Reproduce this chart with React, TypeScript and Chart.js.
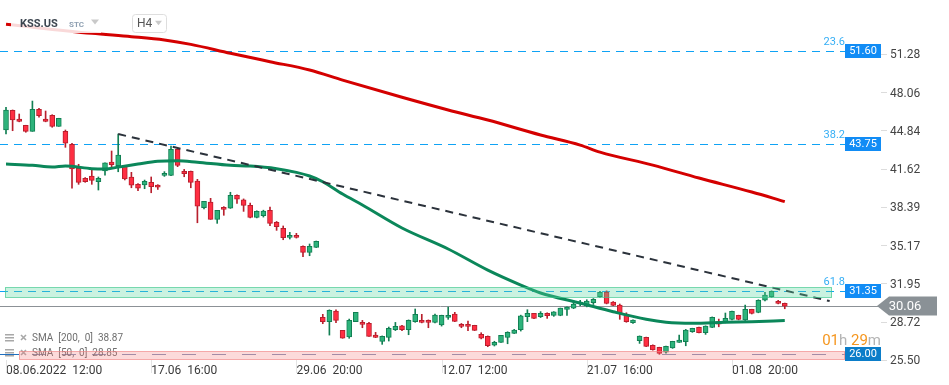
import React, { useEffect, useRef } from 'react';
import { Chart, registerables } from 'chart.js';

Chart.register(...registerables);

// ---- candle data (H4 bars, index 0 = 08.06.2022 12:00) ----
const opens = [
  44.91, 46.57, 45.84, 45.31, 44.80, 46.65, 45.84, 46.15, 45.22, 44.80,
  43.70, 41.68, 40.84, 41.03, 40.55, 41.45, 42.21, 41.90, 41.87, 40.95,
  40.33, 40.27, 40.50, 40.27, 41.09, 41.09, 43.28, 41.42, 41.42, 40.61,
  38.36, 38.84, 37.38, 38.39, 38.31, 39.40, 39.03, 38.56, 37.55, 37.68,
  38.14, 37.13, 36.62, 35.86, 36.03, 35.10, 34.60, 35.02, 29.12, 28.75,
  29.65, 28.02, 27.46, 28.75, 28.69, 28.61, 27.62, 27.09, 27.43, 28.07,
  28.41, 28.07, 28.75, 28.86, 28.86, 28.69, 28.47, 29.12, 29.39, 28.53,
  28.53, 28.44, 27.68, 27.51, 26.76, 27.01, 27.43, 27.77, 28.07, 29.17,
  29.45, 29.17, 29.45, 29.28, 29.28, 29.79, 29.90, 30.24, 30.07, 30.35,
  30.85, 31.22, 30.41, 30.15, 29.37, 28.66, 27.14, 27.43, 26.76, 26.59,
  26.17, 26.53, 27.01, 27.06, 27.90, 28.27, 27.82, 28.27, 28.75, 28.69,
  28.95, 29.28, 28.89, 29.79, 29.54, 30.57, 30.85, 30.47, 30.30,
];
const highs = [
  46.82, 46.60, 46.26, 45.31, 47.35, 46.74, 46.51, 46.20, 45.90, 44.91,
  43.79, 42.02, 40.90, 41.54, 40.95, 42.15, 43.14, 44.57, 41.90, 41.34,
  40.40, 40.69, 40.95, 40.30, 41.40, 43.56, 43.30, 41.59, 41.45, 40.75,
  38.90, 39.15, 38.14, 38.45, 39.66, 39.45, 39.10, 38.75, 38.10, 38.15,
  38.42, 37.20, 36.82, 36.28, 36.20, 35.15, 35.30, 35.55, 29.37, 29.75,
  29.76, 28.02, 28.97, 29.54, 28.86, 28.70, 27.85, 27.55, 28.30, 28.69,
  28.45, 28.90, 29.82, 29.37, 28.90, 29.40, 29.30, 29.98, 29.54, 28.60,
  28.80, 28.45, 27.82, 27.55, 27.10, 27.60, 27.90, 28.10, 29.30, 29.76,
  29.45, 29.60, 29.50, 29.60, 29.90, 30.00, 30.52, 30.55, 30.60, 30.70,
  31.30, 31.35, 30.45, 30.24, 29.50, 28.90, 27.55, 27.45, 26.80, 26.60,
  26.70, 27.10, 27.62, 28.10, 28.20, 28.30, 28.40, 29.15, 28.97, 29.48,
  29.65, 29.30, 30.15, 29.80, 30.60, 31.22, 31.35, 30.55, 30.32,
];
const lows = [
  44.58, 44.85, 45.60, 44.72, 44.80, 46.00, 45.60, 45.14, 45.22, 43.45,
  40.00, 40.33, 40.50, 40.33, 39.85, 41.11, 41.82, 41.39, 40.70, 40.04,
  39.79, 39.96, 39.62, 39.90, 41.00, 41.05, 41.82, 40.97, 40.04, 37.09,
  38.25, 37.38, 37.04, 37.72, 38.30, 38.73, 38.05, 37.50, 37.50, 37.57,
  36.84, 36.45, 35.66, 35.72, 35.80, 34.23, 34.31, 35.00, 28.58, 27.62,
  28.66, 27.35, 27.35, 28.75, 28.24, 27.50, 27.40, 26.84, 27.12, 28.00,
  28.00, 27.65, 28.70, 28.65, 28.24, 28.65, 28.38, 28.95, 28.75, 28.24,
  27.99, 28.00, 27.30, 26.64, 26.70, 27.00, 26.89, 27.75, 27.96, 28.75,
  29.00, 29.10, 29.03, 29.20, 29.25, 29.28, 29.85, 30.10, 30.00, 30.20,
  30.80, 30.25, 30.10, 28.95, 28.70, 28.60, 26.92, 26.65, 26.35, 26.00,
  26.10, 26.50, 27.00, 26.72, 27.85, 27.80, 27.68, 28.25, 28.32, 28.65,
  28.90, 28.90, 28.85, 29.40, 29.50, 30.50, 30.80, 30.25, 29.84,
];
const closes = [
  46.60, 45.75, 45.64, 44.80, 46.65, 46.11, 45.64, 45.22, 45.90, 43.79,
  41.62, 40.50, 40.55, 40.67, 40.84, 42.15, 41.98, 42.80, 40.78, 40.25,
  40.00, 40.58, 40.13, 40.08, 41.26, 43.28, 41.93, 41.22, 40.50, 38.48,
  38.90, 37.38, 38.14, 38.22, 39.40, 39.07, 38.56, 37.55, 38.05, 38.08,
  37.04, 36.76, 35.83, 36.03, 35.86, 34.60, 35.10, 35.52, 28.75, 29.71,
  28.86, 27.35, 28.86, 29.54, 28.53, 27.51, 27.43, 27.51, 28.19, 28.36,
  28.07, 28.86, 29.37, 28.69, 28.69, 29.31, 29.28, 29.28, 28.78, 28.36,
  28.36, 28.02, 27.35, 26.72, 27.01, 27.60, 27.85, 28.05, 29.25, 29.45,
  29.03, 29.45, 29.25, 29.59, 29.90, 29.98, 30.24, 30.30, 30.49, 30.63,
  31.22, 30.30, 30.13, 29.45, 28.75, 28.89, 27.54, 26.67, 26.38, 26.08,
  26.67, 27.09, 27.20, 28.05, 28.19, 27.82, 28.38, 29.12, 28.55, 29.03,
  29.62, 28.95, 29.79, 29.45, 30.55, 31.00, 31.31, 30.30, 30.06,
];

// ---- axis labels ----
const xTickIndex = [0, 22, 44, 66, 88, 110];
const xTickLabels = ['08.06.2022  12:00', '17.06  16:00', '29.06  20:00', '12.07  12:00', '21.07  16:00', '01.08  20:00'];
const yTickValues = [51.28, 48.06, 44.84, 41.62, 38.39, 35.17, 31.95, 28.72, 25.5];

// ---- SMA lines ----
const sma50X = [0, 4, 7, 9, 13, 15, 17, 20, 23, 26, 29, 34, 37, 41, 44, 46, 48, 51, 54, 60, 67, 73, 78, 81, 87, 92, 97, 100, 104, 109, 113, 118];
const sma50Y = [42.04, 41.93, 41.79, 41.88, 41.65, 41.62, 41.78, 42.04, 42.27, 42.32, 42.19, 41.93, 41.87, 41.65, 41.34, 41.03, 40.55, 39.51, 38.59, 36.65, 34.88, 33.10, 31.84, 31.17, 30.32, 29.59, 28.95, 28.70, 28.61, 28.70, 28.75, 28.85];
const sma200X = [0, 13, 19, 24, 28, 34, 40, 46, 51, 60, 67, 73, 81, 87, 90, 98, 105, 113, 118];
const sma200Y = [53.82, 53.06, 52.78, 52.50, 52.13, 51.38, 50.67, 49.97, 49.12, 47.67, 46.60, 45.75, 44.49, 43.64, 43.05, 41.95, 40.86, 39.68, 38.87];

// ---- trend line ----
const trendX = [17, 124.8];
const trendY = [44.57, 30.49];

// ---- levels ----
const levelValues = [51.6, 43.75, 31.35, 26.0];
const levelFib = ['23.6', '38.2', '61.8', ''];
const greenBand = [30.8, 31.7];
const redBand = [25.58, 26.3];
const lastPrice = 30.06;

const legendNames = ['SMA  [200,  0]', 'SMA  [50,  0]'];
const legendValues = [38.87, 28.85];
const symbolName = 'KSS.US';
const symbolType = 'STC';
const timeframe = 'H4';
const countdown = ['01', 'h ', '29', 'm'];

const GREEN = '#2db37b';
const GREEN_DARK = '#127f53';
const RED = '#ff2e42';
const RED_DARK = '#b81f2d';
const FONT = 'Roboto, "Noto Sans", sans-serif';

const up = closes.map((c, i) => c >= opens[i]);

function roundRect(ctx: CanvasRenderingContext2D, x: number, y: number, w: number, h: number, r: number) {
  ctx.beginPath();
  ctx.moveTo(x + r, y);
  ctx.lineTo(x + w - r, y);
  ctx.quadraticCurveTo(x + w, y, x + w, y + r);
  ctx.lineTo(x + w, y + h - r);
  ctx.quadraticCurveTo(x + w, y + h, x + w - r, y + h);
  ctx.lineTo(x + r, y + h);
  ctx.quadraticCurveTo(x, y + h, x, y + h - r);
  ctx.lineTo(x, y + r);
  ctx.quadraticCurveTo(x, y, x + r, y);
  ctx.closePath();
}

function tri(ctx: CanvasRenderingContext2D, cx: number, cy: number, w: number, h: number) {
  ctx.beginPath();
  ctx.moveTo(cx - w / 2, cy - h / 2);
  ctx.lineTo(cx + w / 2, cy - h / 2);
  ctx.lineTo(cx, cy + h / 2);
  ctx.closePath();
  ctx.fill();
}

const overlayPlugin = {
  id: 'overlay',
  beforeDatasetsDraw(chart: any) {
    const { ctx, chartArea, scales } = chart;
    const y = scales.y;
    ctx.save();
    levelValues.forEach((v, k) => {
      const py = Math.round(y.getPixelForValue(v)) + 0.5;
      ctx.lineWidth = 1;
      if (k === 3) {
        ctx.setLineDash([]);
        ctx.strokeStyle = '#1f6fc0';
        ctx.beginPath();
        ctx.moveTo(chartArea.left, py);
        ctx.lineTo(chartArea.left + 19, py);
        ctx.stroke();
        ctx.setLineDash([14, 16]);
        ctx.strokeStyle = '#8795b8';
        ctx.beginPath();
        ctx.moveTo(chartArea.left + 32, py);
        ctx.lineTo(chartArea.right - 36, py);
        ctx.stroke();
      } else {
        ctx.setLineDash([8, 6]);
        ctx.strokeStyle = '#0fa3f5';
        ctx.beginPath();
        ctx.moveTo(chartArea.left, py);
        ctx.lineTo(chartArea.right - 36, py);
        ctx.stroke();
      }
    });
    ctx.setLineDash([]);
    const lp = Math.round(y.getPixelForValue(lastPrice)) + 0.5;
    ctx.strokeStyle = '#8c9196';
    ctx.beginPath();
    ctx.moveTo(chartArea.left, lp);
    ctx.lineTo(chartArea.right, lp);
    ctx.stroke();
    ctx.restore();
  },
  afterDatasetsDraw(chart: any) {
    const { ctx, chartArea, scales } = chart;
    const y = scales.y;
    ctx.save();
    // legend (bottom-left)
    ctx.textBaseline = 'middle';
    ctx.font = `10px ${FONT}`;
    legendNames.forEach((name, k) => {
      const cy = 338 + k * 15;
      ctx.fillStyle = '#a8a8a8';
      for (let j = 0; j < 3; j++) ctx.fillRect(5, cy - 4 + j * 3, 9, 1.5);
      ctx.strokeStyle = '#a8a8a8';
      ctx.lineWidth = 1.6;
      ctx.beginPath();
      ctx.moveTo(21, cy - 3); ctx.lineTo(26, cy + 2);
      ctx.moveTo(26, cy - 3); ctx.lineTo(21, cy + 2);
      ctx.stroke();
      ctx.fillStyle = '#6f6f6f';
      ctx.textAlign = 'left';
      ctx.fillText(`${name}  ${legendValues[k].toFixed(2)}`, 32, cy);
    });
    // bands
    const bands = [
      { v: greenBand, fill: 'rgba(90, 215, 160, 0.32)', stroke: 'rgba(60, 200, 140, 0.65)', x0: chartArea.left + 5, x1: chartArea.right - 49 },
      { v: redBand, fill: 'rgba(245, 120, 120, 0.27)', stroke: 'rgba(240, 130, 130, 0.65)', x0: chartArea.left + 19, x1: chartArea.right - 36 },
    ];
    bands.forEach((b) => {
      const top = Math.round(y.getPixelForValue(b.v[1])) + 0.5;
      const bot = Math.round(y.getPixelForValue(b.v[0])) + 0.5;
      ctx.fillStyle = b.fill;
      ctx.fillRect(b.x0, top, b.x1 - b.x0, bot - top);
      ctx.strokeStyle = b.stroke;
      ctx.lineWidth = 1;
      ctx.strokeRect(b.x0 + 0.5, top, b.x1 - b.x0 - 1, bot - top);
    });
    // level labels
    levelValues.forEach((v, k) => {
      const py = Math.round(y.getPixelForValue(v));
      const bx = chartArea.right - 36;
      ctx.fillStyle = k === 3 ? '#0b7dc9' : '#118cf5';
      ctx.fillRect(bx, py - 7, 36, 14);
      ctx.fillStyle = '#ffffff';
      ctx.font = `11px ${FONT}`;
      ctx.textAlign = 'center';
      ctx.textBaseline = 'middle';
      ctx.fillText(v.toFixed(2), bx + 18, py + 0.5);
      if (levelFib[k]) {
        ctx.fillStyle = '#35aef5';
        ctx.textAlign = 'right';
        ctx.fillText(levelFib[k], bx, py - 9);
      }
    });
    ctx.restore();
  },
  afterDraw(chart: any) {
    const { ctx, chartArea, scales } = chart;
    const y = scales.y;
    const x = scales.x;
    ctx.save();
    ctx.strokeStyle = '#e4e4e4';
    ctx.lineWidth = 1;
    xTickIndex.forEach((i) => {
      const px = Math.round(x.getPixelForValue(i)) + 0.5;
      ctx.beginPath();
      ctx.moveTo(px, chartArea.bottom);
      ctx.lineTo(px, chartArea.bottom + 13);
      ctx.stroke();
    });
    // price tag
    const lp = Math.round(y.getPixelForValue(lastPrice));
    const tip = chartArea.right - 4;
    ctx.fillStyle = '#8a9196';
    ctx.beginPath();
    ctx.moveTo(tip, lp);
    ctx.lineTo(tip + 12, lp - 9.5);
    ctx.lineTo(937, lp - 9.5);
    ctx.lineTo(937, lp + 9.5);
    ctx.lineTo(tip + 12, lp + 9.5);
    ctx.closePath();
    ctx.fill();
    ctx.fillStyle = '#ffffff';
    ctx.font = `13px ${FONT}`;
    ctx.textAlign = 'center';
    ctx.textBaseline = 'middle';
    ctx.fillText(lastPrice.toFixed(2), 905, lp + 0.5);
    // countdown
    ctx.font = `15px ${FONT}`;
    ctx.textAlign = 'left';
    let total = 0;
    countdown.forEach((p) => (total += ctx.measureText(p).width));
    let cx = chartArea.right - total;
    countdown.forEach((p, k) => {
      ctx.fillStyle = k % 2 === 0 ? '#f5961e' : '#b4b4b4';
      ctx.fillText(p, cx, 341);
      cx += ctx.measureText(p).width;
    });
    // header
    ctx.fillStyle = 'rgba(255,255,255,0.85)';
    ctx.fillRect(11, 14, 90, 19);
    ctx.fillStyle = '#3d4650';
    ctx.font = `bold 11px ${FONT}`;
    ctx.textAlign = 'left';
    ctx.textBaseline = 'middle';
    ctx.fillText(symbolName, 20, 24);
    ctx.fillStyle = '#8fa0b2';
    ctx.font = `bold 8px ${FONT}`;
    ctx.fillText(symbolType, 69, 24.5);
    ctx.fillStyle = '#c9c9c9';
    tri(ctx, 95, 22, 8, 5);
    ctx.fillStyle = '#ffffff';
    roundRect(ctx, 132.5, 14.5, 34, 18, 3);
    ctx.fill();
    ctx.strokeStyle = '#dedede';
    ctx.lineWidth = 1;
    ctx.stroke();
    ctx.fillStyle = '#555555';
    ctx.font = `12px ${FONT}`;
    ctx.fillText(timeframe, 137, 24);
    ctx.fillStyle = '#c9c9c9';
    tri(ctx, 158.5, 23, 7, 4.5);
    ctx.restore();
  },
};

export default function App() {
  const ref = useRef<HTMLCanvasElement | null>(null);
  useEffect(() => {
    document.body.style.margin = '0';
    const canvas = ref.current;
    if (!canvas) return;
    const idx = opens.map((_, i) => i);
    const bodyColors = idx.map((i) => (up[i] ? GREEN : RED));
    const edgeColors = idx.map((i) => (up[i] ? GREEN_DARK : RED_DARK));
    const chart = new Chart(canvas, {
      type: 'bar',
      data: {
        datasets: [
          {
            type: 'line',
            label: 'trend',
            data: trendX.map((v, i) => ({ x: v, y: trendY[i] })),
            borderColor: '#2b323b',
            borderWidth: 2,
            borderDash: [8, 6],
            pointRadius: 0,
            order: 1,
          } as any,
          {
            type: 'line',
            label: 'SMA 200',
            data: sma200X.map((v, i) => ({ x: v, y: sma200Y[i] })),
            borderColor: '#d40000',
            borderWidth: 3,
            pointRadius: 0,
            cubicInterpolationMode: 'monotone',
            order: 2,
          } as any,
          {
            type: 'line',
            label: 'SMA 50',
            data: sma50X.map((v, i) => ({ x: v, y: sma50Y[i] })),
            borderColor: '#0b875a',
            borderWidth: 3,
            pointRadius: 0,
            cubicInterpolationMode: 'monotone',
            order: 2,
          } as any,
          {
            label: 'bodies',
            data: idx.map((i) => ({ x: i, y: [opens[i], closes[i]] })),
            backgroundColor: bodyColors,
            borderColor: edgeColors,
            borderWidth: 1,
            borderSkipped: false,
            barThickness: 5,
            minBarLength: 2,
            grouped: false,
            order: 3,
          } as any,
          {
            label: 'wicks',
            data: idx.map((i) => ({ x: i, y: [lows[i], highs[i]] })),
            backgroundColor: edgeColors,
            borderWidth: 0,
            barThickness: 1,
            grouped: false,
            order: 4,
          } as any,
        ],
      },
      options: {
        responsive: false,
        animation: false,
        devicePixelRatio: 1,
        layout: { padding: 0 },
        plugins: { legend: { display: false }, tooltip: { enabled: false } },
        scales: {
          x: {
            type: 'linear',
            offset: false,
            min: -0.91,
            max: 132.58,
            grid: { display: false, drawTicks: false },
            border: { display: false },
            afterBuildTicks: (scale: any) => {
              scale.ticks = xTickIndex.map((v) => ({ value: v }));
            },
            afterFit: (scale: any) => {
              scale.height = 25;
              scale.paddingLeft = 0;
              scale.paddingRight = 0;
            },
            ticks: {
              autoSkip: false,
              maxRotation: 0,
              minRotation: 0,
              align: 'start',
              padding: 4,
              color: '#3a3a3a',
              font: { family: FONT, size: 12 },
              callback: (v: any) => {
                const k = xTickIndex.indexOf(Number(v));
                return k >= 0 ? xTickLabels[k] : '';
              },
            },
          },
          y: {
            type: 'linear',
            position: 'right',
            min: 25.52,
            max: 55.87,
            grid: { drawOnChartArea: false, drawTicks: true, tickLength: 6, color: '#dcdcdc' },
            border: { display: false },
            afterBuildTicks: (scale: any) => {
              scale.ticks = yTickValues.map((v) => ({ value: v }));
            },
            afterFit: (scale: any) => {
              scale.width = 68;
              scale.paddingTop = 0;
              scale.paddingBottom = 0;
            },
            ticks: {
              padding: 3,
              labelOffset: 1,
              color: '#444444',
              font: { family: FONT, size: 12 },
              callback: (v: any) => Number(v).toFixed(2),
            },
          },
        },
      } as any,
      plugins: [overlayPlugin],
    });
    return () => chart.destroy();
  }, []);
  return (
    <div style={{ width: 949, height: 385, background: '#ffffff' }}>
      <canvas ref={ref} width={949} height={385} style={{ display: 'block' }} />
    </div>
  );
}
